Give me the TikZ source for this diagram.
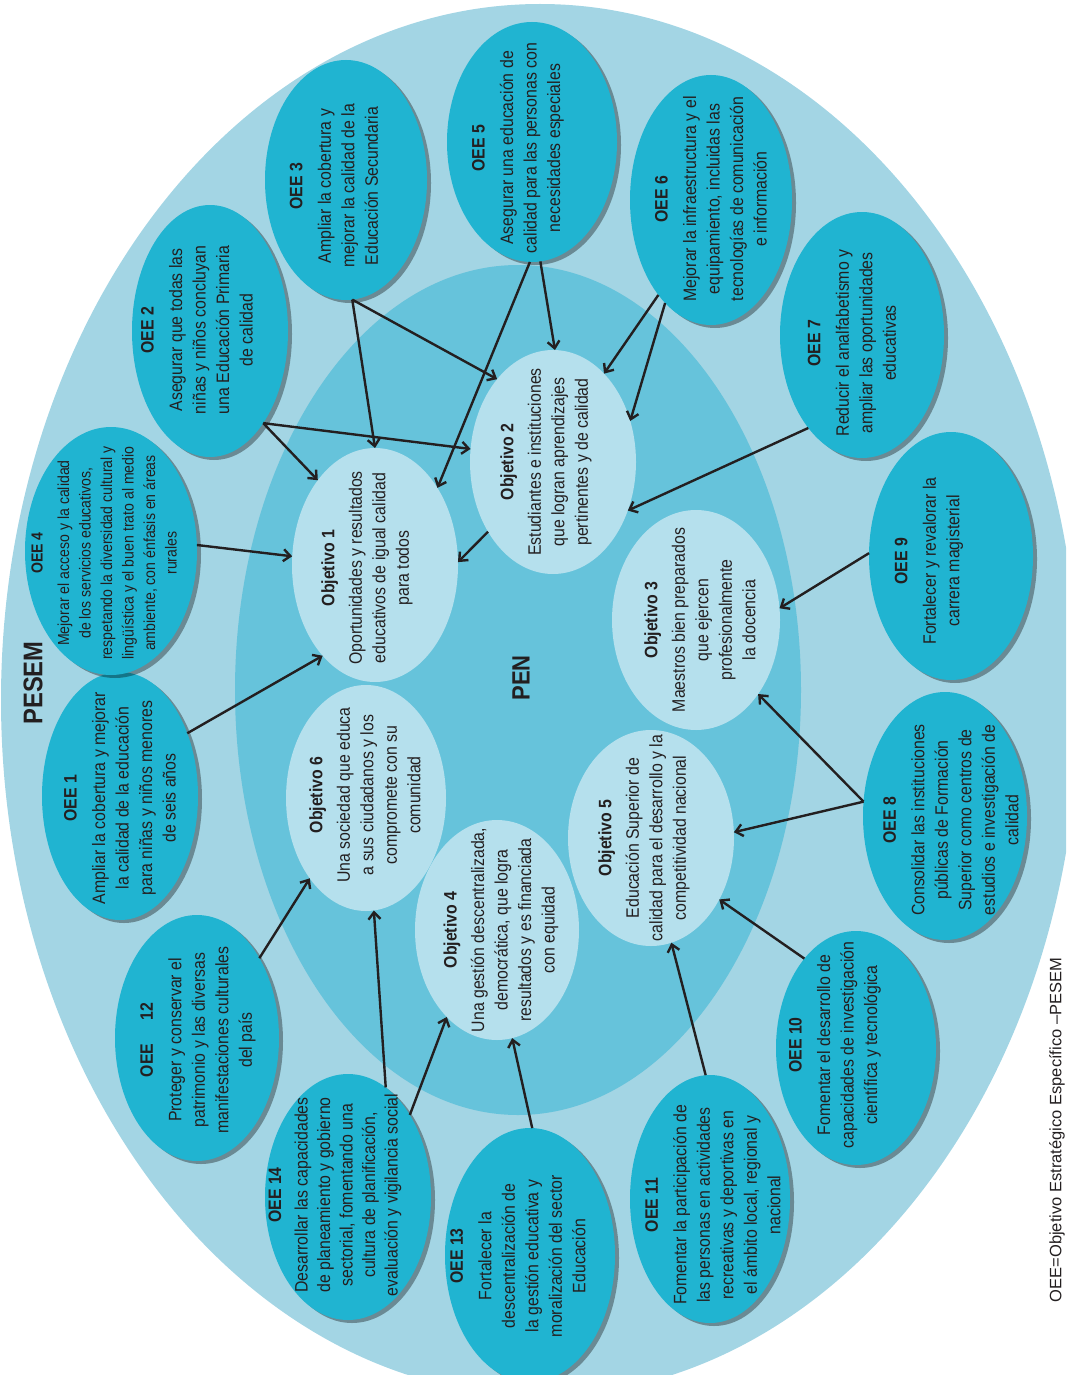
\documentclass[tikz,border=0pt]{standalone}
\usepackage{fontspec}
\newfontfamily\cond{Liberation Sans}[FakeStretch=0.88]
\newfontfamily\plainsans{Liberation Sans}
\usetikzlibrary{shapes.geometric,shadows,arrows.meta}
\definecolor{pesemc}{HTML}{A3D5E4}
\definecolor{penc}{HTML}{66C3DB}
\definecolor{oeec}{HTML}{20B4D1}
\definecolor{objc}{HTML}{B5E0ED}
\definecolor{txt}{HTML}{231F20}
\tikzset{
  oeeshape/.style={ellipse, fill=oeec, inner sep=0pt, outer sep=0pt,
    drop shadow={shadow xshift=4pt, shadow yshift=-3pt, fill=black, opacity=0.35}},
  objshape/.style={ellipse, fill=objc, inner sep=0pt, outer sep=0pt},
  lbl/.style={rotate=90, align=center, text=txt, inner sep=0pt,
    font=\cond\fontsize{18}{23.5}\selectfont},
  smalllbl/.style={lbl, font=\cond\fontsize{16}{21.5}\selectfont},
  arr/.style={draw=txt, line width=2.4pt, -{Straight Barb[length=7pt,width=12pt]}},
}
\begin{document}
\begin{tikzpicture}[x=1pt,y=-1pt]
\useasboundingbox (0,0) rectangle (1066,1375);
\begin{scope}
\clip (0,0) rectangle (1066,1375);
\fill[pesemc] (540,700) ellipse [x radius=539pt, y radius=696pt];
\fill[penc] (518,690) ellipse [x radius=283pt, y radius=425pt];

% objective ellipses
\node[objshape, minimum width=166pt, minimum height=234pt] (obj1) at (375,565) {};
\node[objshape, minimum width=166pt, minimum height=224pt] (obj2) at (553,462) {};
\node[objshape, minimum width=168pt, minimum height=220pt] (obj3) at (696,620) {};
\node[objshape, minimum width=164pt, minimum height=220pt] (obj4) at (497,930) {};
\node[objshape, minimum width=166pt, minimum height=216pt] (obj5) at (651,838) {};
\node[objshape, minimum width=160pt, minimum height=226pt] (obj6) at (366,798) {};

% OEE ellipses
\node[oeeshape, minimum width=156pt, minimum height=248pt] (oee1) at (120,796) {};
\node[oeeshape, minimum width=156pt, minimum height=252pt] (oee2) at (210,331) {};
\node[oeeshape, minimum width=162pt, minimum height=240pt] (oee3) at (346,180) {};
\node[oeeshape, minimum width=172pt, minimum height=248pt] (oee4) at (111,551) {};
\node[oeeshape, minimum width=170pt, minimum height=240pt] (oee5) at (532,142) {};
\node[oeeshape, minimum width=162pt, minimum height=250pt] (oee6) at (711,200) {};
\node[oeeshape, minimum width=164pt, minimum height=246pt] (oee7) at (862,335) {};
\node[oeeshape, minimum width=164pt, minimum height=248pt] (oee8) at (945,816) {};
\node[oeeshape, minimum width=164pt, minimum height=248pt] (oee9) at (951,556) {};
\node[oeeshape, minimum width=160pt, minimum height=234pt] (oee10) at (856,1048) {};
\node[oeeshape, minimum width=160pt, minimum height=248pt] (oee11) at (710,1199) {};
\node[oeeshape, minimum width=164pt, minimum height=246pt] (oee12) at (197,1038) {};
\node[oeeshape, minimum width=170pt, minimum height=254pt] (oee13) at (530,1255) {};
\node[oeeshape, minimum width=166pt, minimum height=246pt] (oee14) at (348,1197) {};

% big labels
\node[rotate=90, text=txt, inner sep=0pt, font=\cond\bfseries\fontsize{27}{30}\selectfont] (pesem) at (33,683) {PESEM};
\node[rotate=90, text=txt, inner sep=0pt, font=\cond\bfseries\fontsize{25}{28}\selectfont] (pen) at (521,678) {PEN};

% OEE texts
\node[lbl] (oee1t) at (120,798) {\textbf{OEE 1}\\[5pt]Ampliar la cobertura y mejorar\\la calidad de la educación\\para niñas y niños menores\\de seis años};
\node[lbl] (oee2t) at (197,330) {\textbf{OEE 2}\\[5pt]Asegurar que todas las\\niñas y niños concluyan\\una Educación Primaria\\de calidad};
\node[lbl] (oee3t) at (334,186) {\textbf{OEE 3}\\[5pt]Ampliar la cobertura y\\mejorar la calidad de la\\Educación Secundaria};
\node[smalllbl] (oee4t) at (104,553) {\textbf{OEE 4}\\[5pt]Mejorar el acceso y la calidad\\de los servicios educativos,\\respetando la diversidad cultural y\\lingüística y el buen trato al medio\\ambiente, con énfasis en áreas\\rurales};
\node[lbl] (oee5t) at (518,148) {\textbf{OEE 5}\\[5pt]Asegurar una educación de\\calidad para las personas con\\necesidades especiales};
\node[lbl] (oee6t) at (711,199) {\textbf{OEE 6}\\[5pt]Mejorar la infraestructura y el\\equipamiento, incluidas las\\tecnologías de comunicación\\e información};
\node[lbl] (oee7t) at (852,343) {\textbf{OEE 7}\\[5pt]Reducir el analfabetismo y\\ampliar las oportunidades\\educativas};
\node[lbl] (oee8t) at (951,820) {\textbf{OEE 8}\\[5pt]Consolidar las instituciones\\públicas de Formación\\Superior como centros de\\estudios e investigación de\\calidad};
\node[lbl] (oee9t) at (929,561) {\textbf{OEE 9}\\[5pt]Fortalecer y revalorar la\\carrera magisterial};
\node[lbl] (oee10t) at (835,1045) {\textbf{OEE 10}\\[5pt]Fomentar el desarrollo de\\capacidades de investigación\\científica y tecnológica};
\node[lbl] (oee11t) at (713,1205) {\textbf{OEE 11}\\[5pt]Fomentar la participación de\\las personas en actividades\\recreativas y deportivas en\\el ámbito local, regional y\\nacional};
\node[lbl] (oee12t) at (198,1040) {\textbf{OEE\hspace{1.3em}12}\\[5pt]Proteger y conservar el\\patrimonio y las diversas\\manifestaciones culturales\\del país};
\node[lbl] (oee13t) at (518,1256) {\textbf{OEE 13}\\[5pt]Fortalecer la\\descentralización de\\la gestión educativa y\\moralización del sector\\Educación};
\node[lbl, font=\cond\fontsize{18}{22.5}\selectfont] (oee14t) at (335,1195) {\textbf{OEE 14}\\[4pt]Desarrollar las capacidades\\de planeamiento y gobierno\\sectorial, fomentando una\\cultura de planificación,\\evaluación y vigilancia social};

% objective texts
\node[lbl] (obj1t) at (367,568) {\textbf{Objetivo 1}\\[4pt]Oportunidades y resultados\\educativos de igual calidad\\para todos};
\node[lbl] (obj2t) at (546,462) {\textbf{Objetivo 2}\\[4pt]Estudiantes e instituciones\\que logran aprendizajes\\pertinentes y de calidad};
\node[lbl] (obj3t) at (700,620) {\textbf{Objetivo 3}\\[4pt]Maestros bien preparados\\que ejercen\\profesionalmente\\la docencia};
\node[lbl] (obj4t) at (501,930) {\textbf{Objetivo 4}\\[4pt]Una gestión descentralizada,\\democrática, que logra\\resultados y es financiada\\con equidad};
\node[lbl] (obj5t) at (644,838) {\textbf{Objetivo 5}\\[4pt]Educación Superior de\\calidad para el desarrollo y la\\competitividad nacional};
\node[lbl] (obj6t) at (365,795) {\textbf{Objetivo 6}\\[4pt]Una sociedad que educa\\a sus ciudadanos y los\\compromete con su\\comunidad};

% connectors
\draw[arr] (oee4.4) -- (obj1.174);
\draw[arr] (oee1.43) -- (obj1.-120);
\draw[arr] (oee2.-60) -- (obj1.124);
\draw[arr] (oee2.-60) -- (obj2.171);
\draw[arr] (oee3.-87) -- (obj1.90);
\draw[arr] (oee3.-87) -- (obj2.124);
\draw[arr] (oee5.-91) -- (obj1.51);
\draw[arr] (oee5.-86) -- (obj2.89);
\draw[arr] (oee6.-119) -- (obj2.60);
\draw[arr] (oee6.-114) -- (obj2.28);
\draw[arr] (obj2.-133) -- (obj1.2);
\draw[arr] (oee7.-120) -- (obj2.-33);
\draw[arr] (oee9.178) -- (obj3.8);
\draw[arr] (oee8.170) -- (obj3.-50);
\draw[arr] (oee8.170) -- (obj5.4);
\draw[arr] (oee10.120) -- (obj5.-42);
\draw[arr] (oee11.92) -- (obj5.-79);
\draw[arr] (oee13.89) -- (obj4.-82);
\draw[arr] (oee14.53) -- (obj4.-120);
\draw[arr] (oee14.71) -- (obj6.-86);
\draw[arr] (oee12.52) -- (obj6.-125);
\end{scope}

\node[rotate=90, text=txt, inner sep=0pt, font=\plainsans\fontsize{16.5}{20}\selectfont] (footer) at (1057,1130) {OEE=Objetivo Estratégico Específico –PESEM};
\end{tikzpicture}
\end{document}
